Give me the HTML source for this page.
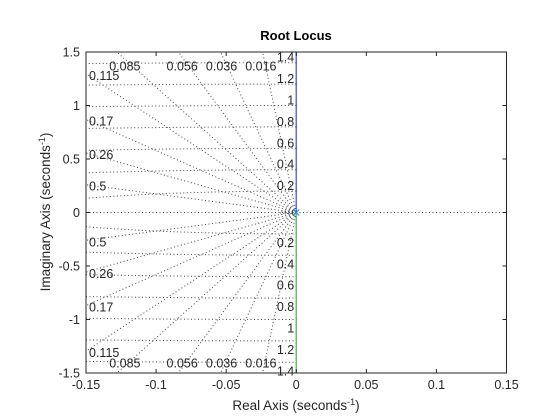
<!DOCTYPE html>
<html><head><meta charset="utf-8"><style>
html,body{margin:0;padding:0;background:#fff;width:560px;height:420px;overflow:hidden;position:relative;}
svg{display:block;position:absolute;left:0;top:0;font-family:"Liberation Sans",sans-serif;}
script{display:none;}
</style></head><body>
<svg id="chart" width="560" height="420" viewBox="0 0 560 420" xmlns="http://www.w3.org/2000/svg" overflow="hidden">
<rect width="560" height="420" fill="#fff"/>
<g id="grid"></g>
<g id="locus"></g>
<g id="axes"></g>
<text x="296" y="40" text-anchor="middle" font-size="13" font-weight="bold" fill="#000">Root Locus</text>
<text x="296" y="410" text-anchor="middle" font-size="13.5" fill="#262626">Real Axis (seconds<tspan dy="-5" font-size="9">-1</tspan><tspan dy="5">)</tspan></text>
<text transform="translate(50,212) rotate(-90)" text-anchor="middle" font-size="13.5" fill="#262626">Imaginary Axis (seconds<tspan dy="-5" font-size="9">-1</tspan><tspan dy="5">)</tspan></text>
</svg>
<script>
const xTicks=[-0.15,-0.1,-0.05,0,0.05,0.1,0.15];
const yTicks=[-1.5,-1,-0.5,0,0.5,1,1.5];
const zetas=[0.016,0.036,0.056,0.085,0.115,0.17,0.26,0.5];
const zetaLabels=["0.016","0.036","0.056","0.085","0.115","0.17","0.26","0.5"];
const omegas=[0.2,0.4,0.6,0.8,1,1.2,1.4];
const omegaLabels=["0.2","0.4","0.6","0.8","1","1.2","1.4"];
const smallOmegas=[0.004,0.008,0.012];
const branchUp=[[0,0],[0,1.5]];
const branchDown=[[0,0],[0,-1.5]];
const pole=[0,0];

const L=86,R=506.5,T=52,B=373;
const xmin=-0.15,xmax=0.15,ymin=-1.5,ymax=1.5;
const sx=v=>L+(v-xmin)/(xmax-xmin)*(R-L);
const sy=v=>B-(v-ymin)/(ymax-ymin)*(B-T);
const NS="http://www.w3.org/2000/svg";
function mk(tag,attrs,parent){const e=document.createElementNS(NS,tag);for(const k in attrs)e.setAttribute(k,attrs[k]);parent.appendChild(e);return e;}
const grid=document.getElementById('grid'),axes=document.getElementById('axes'),locus=document.getElementById('locus');
const gstyle={stroke:"#444",'stroke-width':1,'stroke-dasharray':"1 2.5",fill:"none"};

zetas.forEach((z,i)=>{
  const s=Math.sqrt(1-z*z)/z;
  [1,-1].forEach(sg=>{
    const ex=Math.max(xmin,-ymax/s), ey=-ex*s;
    const l=mk('line',Object.assign({x1:sx(0),y1:sy(0),x2:sx(ex),y2:sy(sg*ey)},gstyle),grid);
    
    
    let y=s*0.15, anchor='start', lx, ly;
    if(y<=1.4){lx=sx(xmin)+3;ly=sy(sg*y)+6;}
    else{const x=-1.4/s;lx=sx(x)-4;ly=sy(sg*1.4)+(sg>0?8:5);anchor='middle';}
    const t=mk('text',{x:lx,y:ly,'font-size':12.5,fill:"#262626",'text-anchor':anchor},axes);
    t.textContent=zetaLabels[i];
    
    
  });
});
const zl=mk('line',Object.assign({x1:L,y1:sy(0),x2:R,y2:sy(0)},gstyle),grid);


function arcSeg(w,a0,a1){let d='';for(let k=0;k<=60;k++){const a=a0+(a1-a0)*k/60;d+=(k?'L':'M')+sx(w*Math.cos(a)).toFixed(2)+','+sy(w*Math.sin(a)).toFixed(2);}return d;}
function arc(w){
  if(w<=-xmin) return arcSeg(w,Math.PI/2,3*Math.PI/2);
  const a0=Math.acos(xmin/w);
  return arcSeg(w,Math.PI/2,a0)+arcSeg(w,2*Math.PI-a0,3*Math.PI/2);
}
omegas.forEach((w,i)=>{
  const p=mk('path',Object.assign({d:arc(w)},gstyle),grid);
  
  
  [1,-1].forEach(sg=>{
    const t=mk('text',{x:sx(0)-2,y:sy(sg*w)+(sg>0?-1:13),'font-size':12.5,fill:"#262626",'text-anchor':'end'},axes);
    t.textContent=omegaLabels[i];
    
    
  });
});
smallOmegas.forEach(w=>{
  const p=mk('path',Object.assign({d:arc(w)},gstyle),grid);
  
  
});
const pathOf=pts=>pts.map((p,k)=>(k?'L':'M')+sx(p[0])+','+sy(p[1])).join('');
const bu=mk('path',{d:pathOf(branchUp),stroke:"#0000ff",'stroke-opacity':0.6,'stroke-width':1.5,fill:'none'},locus);


const bd=mk('path',{d:pathOf(branchDown),stroke:"#009900",'stroke-opacity':0.6,'stroke-width':1.5,fill:'none'},locus);


const px=sx(pole[0]),py=sy(pole[1]);
const pm=mk('path',{d:`M${px-3},${py-3}L${px+3},${py+3}M${px-3},${py+3}L${px+3},${py-3}`,stroke:"#2a8fd8",'stroke-width':1.2},locus);


const box=mk('rect',{x:L,y:T,width:R-L,height:B-T,fill:'none',stroke:'#262626','stroke-width':1},axes);


xTicks.forEach(v=>{
  const x=sx(v);
  mk('line',{x1:x,y1:B,x2:x,y2:B-4,stroke:'#262626'},axes);
  mk('line',{x1:x,y1:T,x2:x,y2:T+4,stroke:'#262626'},axes);
  const t=mk('text',{x:x,y:B+16,'font-size':12.5,fill:'#262626','text-anchor':'middle'},axes);
  t.textContent=String(v);
  
  
});
yTicks.forEach(v=>{
  const y=sy(v);
  mk('line',{x1:L,y1:y,x2:L+4,y2:y,stroke:'#262626'},axes);
  mk('line',{x1:R,y1:y,x2:R-4,y2:y,stroke:'#262626'},axes);
  const t=mk('text',{x:L-6,y:y+4.5,'font-size':12.5,fill:'#262626','text-anchor':'end'},axes);
  t.textContent=String(v);
  
  
});
</script>
</body></html>
